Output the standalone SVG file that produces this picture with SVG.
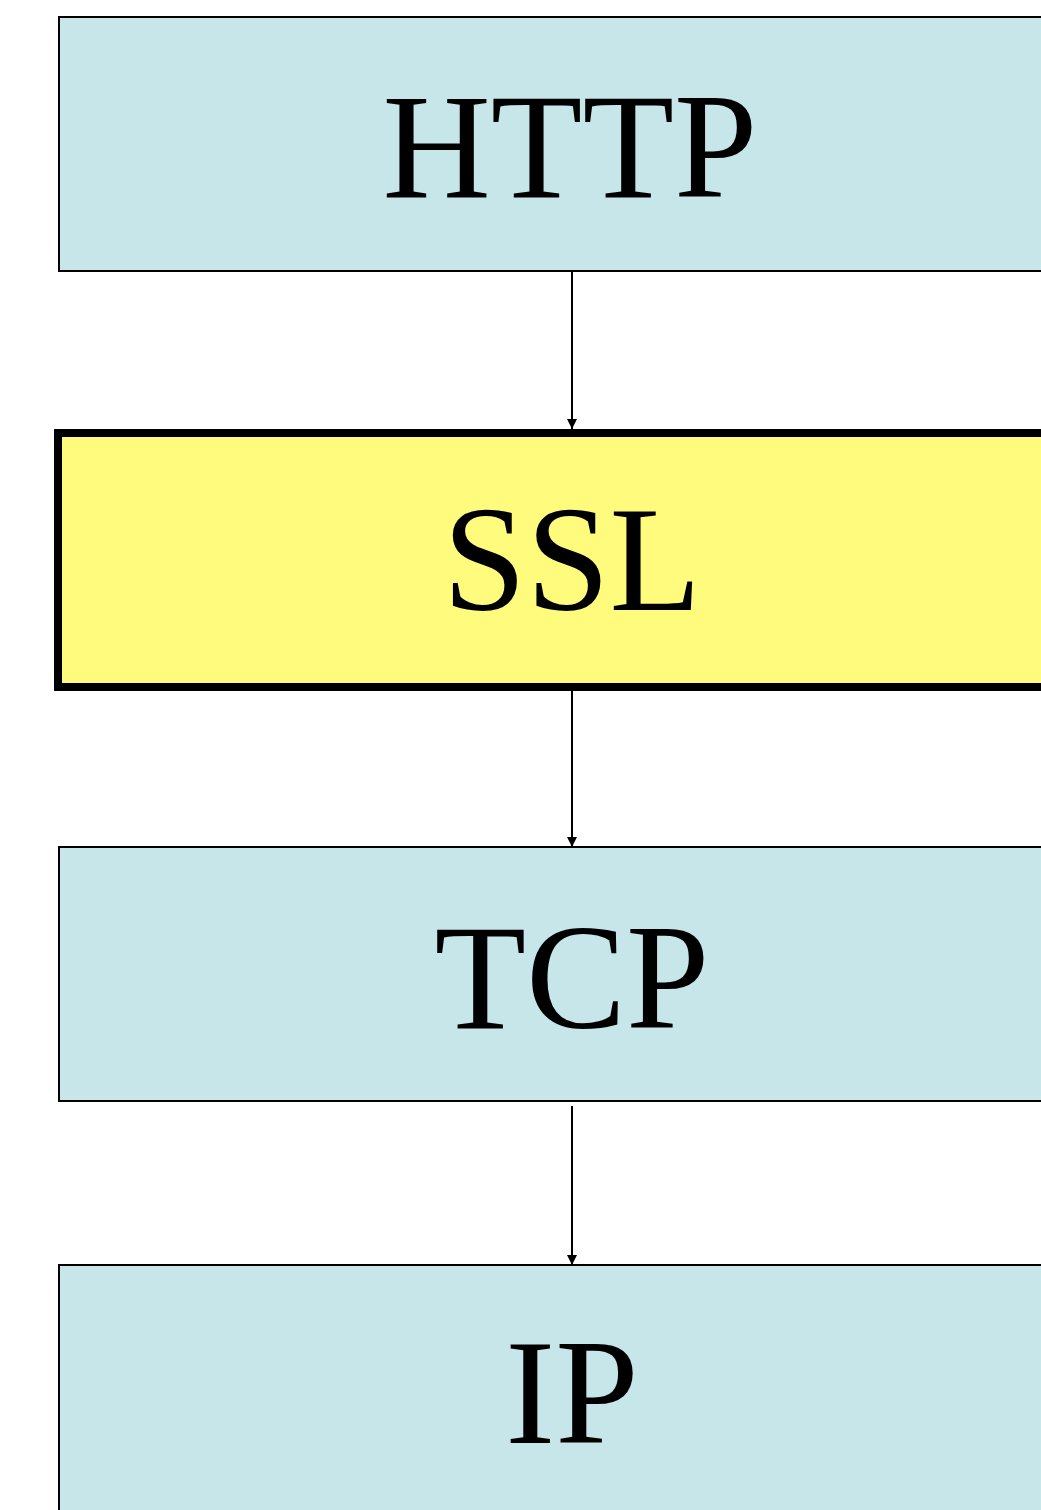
<svg xmlns="http://www.w3.org/2000/svg" width="1041" height="1510" viewBox="0 0 1041 1510">
<style>
.box{fill:#c6e6ea;stroke:#000;stroke-width:2}
.ssl{fill:#fffb7c;stroke:#000;stroke-width:8}
.lbl{font-family:"Liberation Serif","Times New Roman",serif;font-size:150px;text-anchor:middle;fill:#000}
.conn{stroke:#000;stroke-width:2;fill:none}
</style>
<defs>
<marker id="ah" viewBox="0 0 10 10" refX="10" refY="5" markerWidth="10" markerHeight="10" markerUnits="userSpaceOnUse" orient="auto">
<path d="M0,0 L10,5 L0,10 z" fill="#000"/>
</marker>
</defs>
<rect width="1041" height="1510" fill="#fff"/>
<g id="http"><rect class="box" x="59" y="17" width="1100" height="254"/><text class="lbl" x="570" y="197">HTTP</text></g>
<g id="ssl"><rect class="ssl" x="58" y="433" width="1100" height="254"/><text class="lbl" x="572" y="610">SSL</text></g>
<g id="tcp"><rect class="box" x="59" y="847" width="1100" height="254"/><text class="lbl" x="572" y="1028">TCP</text></g>
<g id="ip"><rect class="box" x="59" y="1265" width="1100" height="300"/><text class="lbl" x="572" y="1443">IP</text></g>
<g id="connectors">
<line class="conn" x1="572" y1="271" x2="572" y2="429" marker-end="url(#ah)"/>
<line class="conn" x1="572" y1="691" x2="572" y2="847" marker-end="url(#ah)"/>
<line class="conn" x1="572" y1="1106" x2="572" y2="1265" marker-end="url(#ah)"/>
</g>
</svg>
